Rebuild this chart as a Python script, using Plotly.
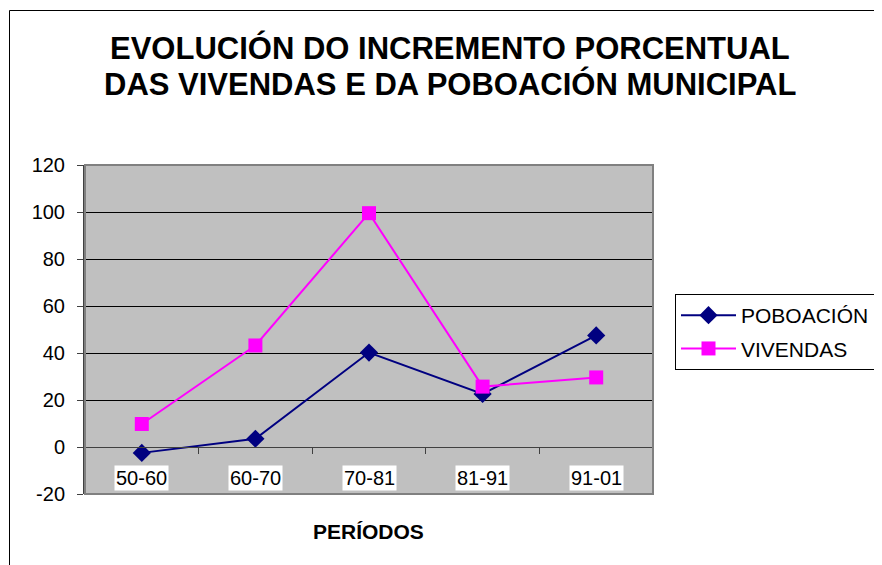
import plotly.graph_objects as go

# ==========================================
# DATA
# ==========================================

periodos = ["50-60", "60-70", "70-81", "81-91", "91-01"]
poboacion = [-2.5, 3.5, 40.2, 22.6, 47.5]
vivendas = [9.8, 43.2, 99.5, 25.7, 29.6]
y_ticks = [-20, 0, 20, 40, 60, 80, 100, 120]
y_tick_text = ["-20", "0", "20", "40", "60", "80", "100", "120"]

# page is 882 x 565, the body has an 8px margin
OFF = 8
W, H = 882 - OFF, 565 - OFF
L, R, T, B = 85, 653, 165, 494   # plot area in page pixels


def px_x(p):
    return (p - L) / (R - L)


def px_y(p):
    return (B - p) / (B - T)


FONT = "Liberation Sans, Arial"

fig = go.Figure()

fig.add_trace(go.Scatter(
    x=periodos, y=poboacion, name="POBOACIÓN",
    mode="lines+markers", legendgroup="a",
    line=dict(color="#000080", width=2),
    marker=dict(symbol="diamond", size=14, color="#000080")
))

fig.add_trace(go.Scatter(
    x=periodos, y=vivendas, name="VIVENDAS",
    mode="lines+markers", legendgroup="b",
    line=dict(color="#FF00FF", width=2),
    marker=dict(symbol="square", size=14, color="#FF00FF")
))

# category labels sit inside the plot, below the zero line
annotations = []
for p in periodos:
    annotations.append(dict(
        x=p, y=-13, xref="x", yref="y", text=p, showarrow=False,
        xanchor="center", yanchor="middle",
        font=dict(family=FONT, size=20, color="black"),
        bgcolor="white", borderpad=1
    ))

annotations.append(dict(
    x=px_x(450), y=px_y(48), xref="paper", yref="paper",
    xanchor="center", yanchor="middle",
    text="<b>EVOLUCIÓN DO INCREMENTO PORCENTUAL</b>", showarrow=False,
    font=dict(family=FONT, size=31, color="black")
))
annotations.append(dict(
    x=px_x(450), y=px_y(84), xref="paper", yref="paper",
    xanchor="center", yanchor="middle",
    text="<b>DAS VIVENDAS E DA POBOACIÓN MUNICIPAL</b>", showarrow=False,
    font=dict(family=FONT, size=31, color="black")
))
annotations.append(dict(
    x=px_x(368), y=px_y(531), xref="paper", yref="paper",
    xanchor="center", yanchor="middle",
    text="<b>PERÍODOS</b>", showarrow=False,
    font=dict(family=FONT, size=21, color="black")
))

shapes = [
    # outer chart border
    dict(type="rect", xref="paper", yref="paper",
         x0=px_x(9.5), x1=px_x(900), y0=px_y(600), y1=px_y(10.5),
         line=dict(color="black", width=1), layer="below"),
    # plot area border
    dict(type="rect", xref="paper", yref="paper",
         x0=0, x1=1, y0=0, y1=1,
         line=dict(color="#808080", width=2), layer="above"),
]

fig.update_layout(
    width=W, height=H,
    margin=dict(l=L - OFF, r=882 - R, t=T - OFF, b=565 - B,
                autoexpand=False),
    paper_bgcolor="white",
    plot_bgcolor="#C0C0C0",
    font=dict(family=FONT, size=20, color="black"),
    annotations=annotations,
    shapes=shapes,
    legend=dict(
        x=px_x(675), y=px_y(294), xanchor="left", yanchor="top",
        bordercolor="black", borderwidth=1, bgcolor="white",
        font=dict(size=21), tracegroupgap=3, traceorder="grouped",
        itemwidth=55
    ),
)

fig.update_xaxes(
    type="category", range=[-0.5, 4.5],
    anchor="free", position=1 / 7,
    showticklabels=False, showgrid=False,
    showline=True, linecolor="#404040", linewidth=1,
    ticks="outside", tickson="boundaries", ticklen=6, tickcolor="#404040"
)

fig.update_yaxes(
    range=[-20, 120], tickvals=y_ticks, ticktext=y_tick_text,
    showgrid=True, gridcolor="black", gridwidth=1, zeroline=False,
    showline=True, linecolor="#404040", linewidth=2,
    ticks="outside", ticklen=6, tickcolor="#404040",
    tickfont=dict(size=20), ticklabelstandoff=8
)

fig.write_html("out.html")
